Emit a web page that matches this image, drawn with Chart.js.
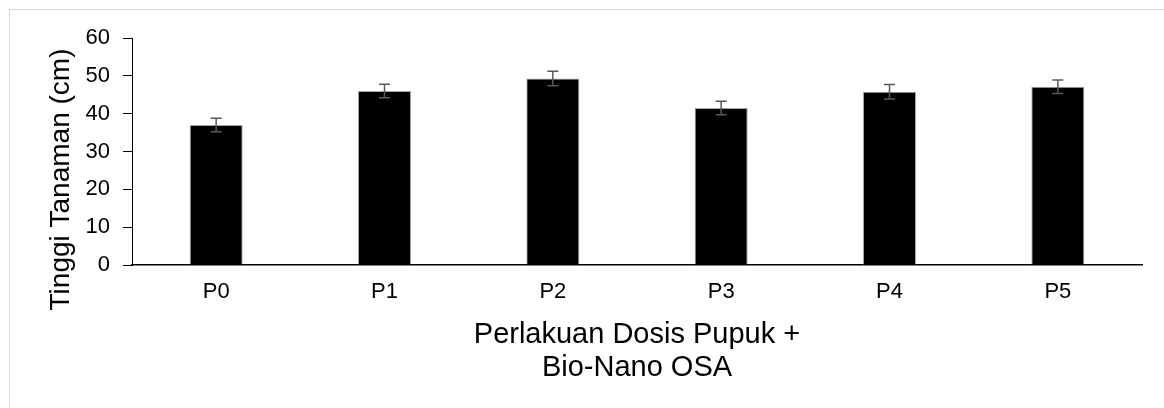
<!DOCTYPE html>
<html>
<head>
<meta charset="utf-8">
<script src="https://cdn.jsdelivr.net/npm/chart.js@4"></script>
<style>
  html, body { margin: 0; padding: 0; background: #fff; }
  #wrap { position: relative; width: 1164px; height: 408px; overflow: hidden; }
  #frame { position: absolute; left: 9px; top: 9px; width: 1200px; height: 440px; border: 1px solid #d9d9d9; }
  canvas { position: absolute; left: 0; top: 0; }
</style>
</head>
<body>
<div id="wrap">
  <div id="frame"></div>
  <canvas id="chart" width="1164" height="408"></canvas>
</div>
<script>
"use strict";

// data
const categories = ['P0', 'P1', 'P2', 'P3', 'P4', 'P5'];
const heights = [37.0, 46.0, 49.3, 41.5, 45.8, 47.1];
const errors = [1.8, 1.8, 1.9, 1.8, 1.9, 1.8];
const yTicks = [0, 10, 20, 30, 40, 50, 60];
const yTitle = 'Tinggi Tanaman (cm)';
const xTitle = ['Perlakuan Dosis Pupuk +', 'Bio-Nano OSA'];

const fontFamily = "'Liberation Sans', Arial, sans-serif";

// draws the error bars through the y scale
const errorBars = {
    id: 'errorBars',
    afterDatasetsDraw(chart) {
        const ctx = chart.ctx;
        const meta = chart.getDatasetMeta(0);
        const y = chart.scales.y;
        ctx.save();
        ctx.strokeStyle = '#595959';
        ctx.lineWidth = 1.5;
        meta.data.forEach((bar, i) => {
            const top = y.getPixelForValue(heights[i] + errors[i]);
            const bottom = y.getPixelForValue(heights[i] - errors[i]);
            const half = 5.5;
            ctx.beginPath();
            ctx.moveTo(bar.x, top);
            ctx.lineTo(bar.x, bottom);
            ctx.moveTo(bar.x - half, top);
            ctx.lineTo(bar.x + half, top);
            ctx.moveTo(bar.x - half, bottom);
            ctx.lineTo(bar.x + half, bottom);
            ctx.stroke();
        });
        ctx.restore();
    }
};

// y title sits lower than the plot centre in the source, so draw it by hand
const sideTitle = {
    id: 'sideTitle',
    afterDraw(chart) {
        const ctx = chart.ctx;
        const area = chart.chartArea;
        ctx.save();
        ctx.translate(61, (area.top + area.bottom) / 2 + 28);
        ctx.rotate(-Math.PI / 2);
        ctx.fillStyle = '#000';
        ctx.font = '28px ' + fontFamily;
        ctx.textAlign = 'center';
        ctx.textBaseline = 'middle';
        ctx.fillText(yTitle, 0, 0);
        ctx.restore();
    }
};

const config = {
    type: 'bar',
    data: {
        labels: categories,
        datasets: [
            {
                data: heights,
                backgroundColor: '#000000',
                borderColor: '#a6a6a6',
                borderWidth: 1,
                categoryPercentage: 1,
                barPercentage: 0.315
            }
        ]
    },
    options: {
        responsive: false,
        animation: false,
        devicePixelRatio: 1,
        layout: {
            padding: { left: 0, right: 22, top: 38, bottom: 0 }
        },
        plugins: {
            legend: { display: false },
            tooltip: { enabled: false }
        },
        scales: {
            x: {
                grid: { display: false },
                border: { display: true, color: '#000', width: 1.5 },
                ticks: {
                    color: '#000',
                    padding: 6,
                    font: { family: fontFamily, size: 22 }
                },
                title: {
                    display: true,
                    text: xTitle,
                    color: '#000',
                    font: { family: fontFamily, size: 29, lineHeight: 1.14 },
                    padding: { top: 4, bottom: 23 }
                },
                afterFit(scale) {
                    scale.height = 143;
                }
            },
            y: {
                min: 0,
                max: 60,
                afterBuildTicks(scale) {
                    scale.ticks = yTicks.map(v => ({ value: v }));
                },
                grid: {
                    drawOnChartArea: false,
                    drawTicks: true,
                    tickLength: 9,
                    color: '#000'
                },
                border: { display: true, color: '#000', width: 1 },
                ticks: {
                    color: '#000',
                    padding: 13,
                    font: { family: fontFamily, size: 22 }
                },
                afterFit(scale) {
                    scale.width = 132;
                }
            }
        }
    },
    plugins: [errorBars, sideTitle]
};

new Chart(document.getElementById('chart'), config);
</script>
</body>
</html>
